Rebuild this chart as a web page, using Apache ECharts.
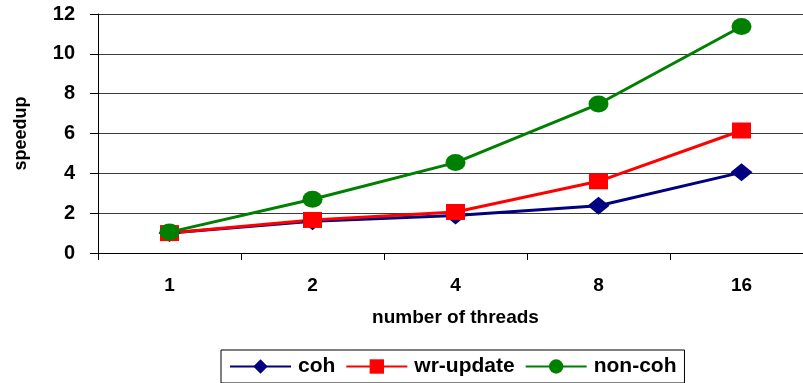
<!DOCTYPE html>
<html>
<head>
<meta charset="utf-8">
<script src="https://cdn.jsdelivr.net/npm/echarts@6/dist/echarts.min.js"></script>
<style>
  html, body { margin: 0; padding: 0; background: #fff; }
  #chart { width: 803px; height: 383px; }
</style>
</head>
<body>
<div id="chart"></div>
<script>
// Thread counts on the x axis
const threads = ['1', '2', '4', '8', '16'];

// Speedup per configuration
const coh      = [1.0, 1.6, 1.88, 2.37, 4.05];
const wrUpdate = [1.0, 1.66, 2.06, 3.6, 6.15];
const nonCoh   = [1.05, 2.7, 4.54, 7.48, 11.37];

// Value axis ticks
const yMin = 0, yMax = 12, yStep = 2;

const FONT = '"Liberation Sans", Arial, sans-serif';

const chart = echarts.init(document.getElementById('chart'), null, { renderer: 'canvas' });

function lineSeries(name, data, color, symbol, size) {
  return {
    name: name,
    type: 'line',
    data: data,
    symbol: symbol,
    symbolSize: size,
    showAllSymbol: true,
    lineStyle: { color: color, width: 3 },
    itemStyle: { color: color, borderWidth: 0 },
    emphasis: { disabled: true },
    z: 3
  };
}

chart.setOption({
  animation: false,
  backgroundColor: '#ffffff',
  // the last category band runs past the right edge of the canvas
  grid: { left: 98, top: 14, width: 715, height: 239, containLabel: false, outerBoundsMode: 'none' },
  xAxis: {
    type: 'category',
    data: threads,
    boundaryGap: true,
    name: 'number of threads',
    nameLocation: 'middle',
    nameGap: 55,
    nameTextStyle: { fontFamily: FONT, fontWeight: 'bold', fontSize: 19, color: '#000' },
    axisLine: { lineStyle: { color: '#000', width: 1 } },
    axisTick: { show: true, length: 7, lineStyle: { color: '#000' } },
    axisLabel: { fontFamily: FONT, fontWeight: 'bold', fontSize: 19, color: '#000', margin: 23 },
    splitLine: { show: false }
  },
  yAxis: {
    type: 'value',
    min: yMin,
    max: yMax,
    interval: yStep,
    name: 'speedup',
    nameLocation: 'middle',
    nameRotate: 90,
    nameGap: 68,
    nameTextStyle: { fontFamily: FONT, fontWeight: 'bold', fontSize: 18, color: '#000' },
    axisLine: { show: true, lineStyle: { color: '#000', width: 1 } },
    axisTick: { show: true, length: 8, inside: false, lineStyle: { color: '#000' } },
    axisLabel: { fontFamily: FONT, fontWeight: 'bold', fontSize: 20, color: '#000', margin: 23 },
    splitLine: { show: true, lineStyle: { color: '#3a3a3a', width: 1 } }
  },
  legend: {
    left: 221,
    top: 350,
    padding: [6, 8, 6, 8],
    itemGap: 10,
    itemWidth: 61,
    itemHeight: 18,
    borderColor: '#000',
    borderWidth: 1,
    backgroundColor: '#fff',
    textStyle: { fontFamily: FONT, fontWeight: 'bold', fontSize: 21, color: '#000', padding: [0, 0, 0, 2] },
    data: ['coh', 'wr-update', 'non-coh']
  },
  series: [
    lineSeries('coh', coh, '#000080', 'diamond', [22, 18]),
    lineSeries('wr-update', wrUpdate, '#ff0000', 'rect', [19, 16]),
    lineSeries('non-coh', nonCoh, '#008000', 'circle', [20, 17])
  ]
});
</script>
</body>
</html>
